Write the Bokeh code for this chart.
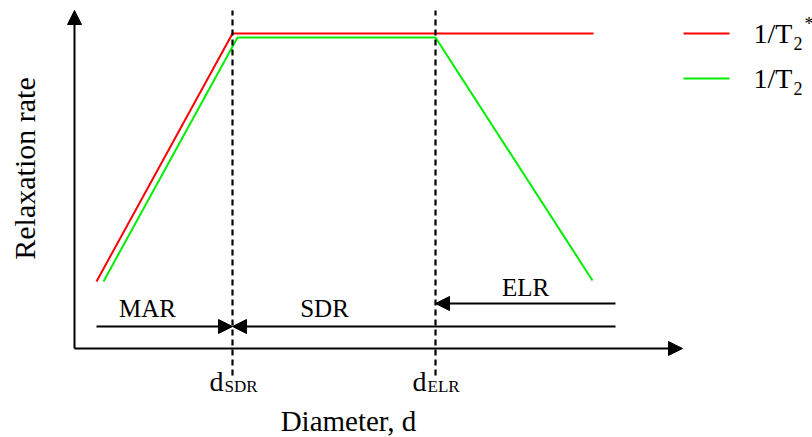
import math
from bokeh.plotting import figure
from bokeh.models import Range1d, Arrow, NormalHead
from bokeh.core.properties import value
from bokeh.embed import file_html
from bokeh.resources import INLINE

# ---- schematic data (arbitrary units: diameter d, relaxation rate) ----
red_d = [22, 158, 519]          # 1/T2*
red_rate = [67, 315, 315]
green_d = [29, 163, 361, 518]   # 1/T2
green_rate = [67, 311, 311, 68]

d_sdr = 158
d_elr = 361
marker_bottom = -27
axis_top = 338
axis_right = 608

region_left = 22
region_right = 541
region_low = 22
region_high = 45

region_labels = ["MAR", "SDR", "ELR"]
region_label_d = [73, 250, 451]
region_label_rate = [40, 40, 61]

legend_labels = ["1/T", "1/T"]
legend_colors = ["#ff0000", "#00ee00"]

FONT = value("Liberation Serif")

p = figure(width=812, height=437,
           x_range=Range1d(-74, 738), y_range=Range1d(-89, 348),
           x_axis_type=None, y_axis_type=None,
           output_backend="svg", toolbar_location=None, min_border=0)
p.grid.visible = False
p.outline_line_color = None
p.background_fill_color = "white"
p.border_fill_color = "white"

# curves
p.line(red_d, red_rate, line_color="#ff0000", line_width=2)
p.line(green_d, green_rate, line_color="#00ee00", line_width=2)

# dashed markers
for dx in (d_sdr, d_elr):
    p.line([dx, dx], [marker_bottom, axis_top], line_color="black",
           line_width=2.2, line_dash="6 4")

# axes with arrows
head = lambda: NormalHead(size=14, fill_color="black", line_color="black", line_width=1)
p.add_layout(Arrow(x_start=0, y_start=0, x_end=0, y_end=axis_top,
                   line_width=2, end=head()))
p.add_layout(Arrow(x_start=0, y_start=0, x_end=axis_right, y_end=0,
                   line_width=2, end=head()))

# region arrows
p.add_layout(Arrow(x_start=region_left, y_start=region_low, x_end=d_sdr, y_end=region_low,
                   line_width=2, end=head()))
p.add_layout(Arrow(x_start=region_right, y_start=region_low, x_end=d_sdr, y_end=region_low,
                   line_width=2, end=head()))
p.add_layout(Arrow(x_start=region_right, y_start=region_high, x_end=d_elr, y_end=region_high,
                   line_width=2, end=head()))

p.text(x=region_label_d, y=region_label_rate, text=region_labels,
       text_font=FONT, text_font_size="25px", text_align="center",
       text_baseline="alphabetic", text_color="black")

# d_SDR / d_ELR labels
p.text(x=[d_sdr - 9, d_elr - 9], y=[-33, -33], text=["d", "d"],
       text_font=FONT, text_font_size="28px", text_align="right",
       text_baseline="alphabetic")
p.text(x=[d_sdr - 8, d_elr - 8], y=[-38, -38], text=["SDR", "ELR"],
       text_font=FONT, text_font_size="17px", text_align="left",
       text_baseline="alphabetic")

# axis titles
p.text(x=[274], y=[-72], text=["Diameter, d"], text_font=FONT,
       text_font_size="29px", text_align="center", text_baseline="alphabetic")
p.text(x=[-50], y=[180], text=["Relaxation rate"], angle=math.pi / 2,
       text_font=FONT, text_font_size="30px", text_align="center",
       text_baseline="alphabetic")

# legend
leg_y = [315, 270]
for c, y in zip(legend_colors, leg_y):
    p.line([609, 655], [y, y], line_color=c, line_width=2)
p.text(x=[679, 679], y=[315, 270], text=legend_labels, text_font=FONT,
       text_font_size="28px", text_align="left", text_baseline="alphabetic")
p.text(x=[719, 719], y=[305, 260], text=["2", "2"], text_font=FONT,
       text_font_size="18px", text_align="left", text_baseline="alphabetic")
p.text(x=[730], y=[325], text=["*"], text_font=FONT,
       text_font_size="18px", text_align="left", text_baseline="alphabetic")

open("out.html", "w").write(file_html(p, INLINE))
